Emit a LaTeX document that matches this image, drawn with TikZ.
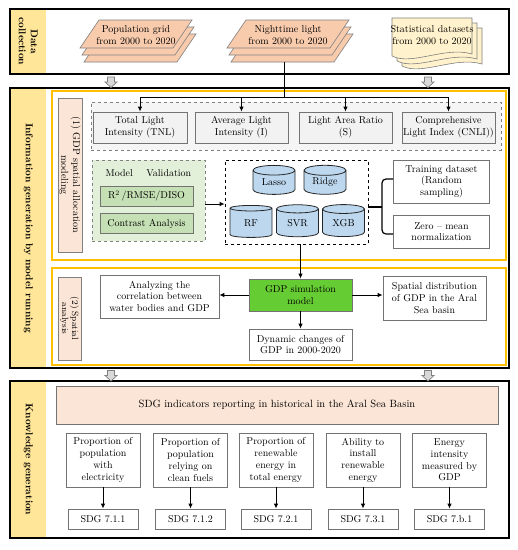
\documentclass[tikz,border=0pt]{standalone}
\usetikzlibrary{arrows.meta, positioning, shapes.geometric}
\definecolor{bandyellow}{HTML}{FFE699}
\definecolor{framegold}{HTML}{FFC000}
\definecolor{tagpink}{HTML}{FBE5D6}
\definecolor{sheetpeach}{HTML}{F8CBAD}
\definecolor{pagecream}{HTML}{FFF2CC}
\definecolor{valgreen}{HTML}{E2F0D9}
\definecolor{metricgreen}{HTML}{C5E0B4}
\definecolor{cylblue}{HTML}{BDD7EE}
\definecolor{gdpgreen}{HTML}{66CC33}
\newcommand{\boxfont}{\fontsize{10}{11.7}\selectfont}

\begin{document}
\begin{tikzpicture}[x=1pt, y=-1pt,
  blk/.style={draw=black, line width=1.2pt, fill=white, minimum width=499pt, inner sep=0pt},
  band/.style={fill=bandyellow, rotate=-90, font=\bfseries, align=center, inner sep=0pt, minimum height=35.4pt},
  frame/.style={draw=framegold, line width=1.2pt, minimum width=454pt, inner sep=0pt},
  tag/.style={draw=gray, fill=tagpink, rotate=-90, align=center, inner sep=0pt, font=\boxfont},
  box/.style={draw=gray!90!black, line width=0.8pt, fill=white, align=center, inner sep=1pt, font=\boxfont},
  greybox/.style={box, fill=gray!10, minimum width=93pt, minimum height=31pt},
  metric/.style={box, fill=metricgreen, minimum width=93pt, minimum height=20pt},
  cyl/.style={cylinder, shape border rotate=90, aspect=0.4, draw=black!85, line width=0.8pt, fill=cylblue,
              minimum width=42pt, minimum height=30pt, inner sep=0pt, font=\boxfont},
  ind/.style={box, minimum width=74pt, minimum height=54pt},
  code/.style={box, minimum width=70pt, minimum height=20pt},
  sheet/.style={draw=gray, line width=0.6pt, fill=sheetpeach},
  page/.style={draw=gray, line width=0.6pt, fill=pagecream},
  bigarrow/.style={draw=gray, line width=0.7pt, fill=gray!30, line join=miter},
  flow/.style={-{Latex[length=5pt,width=4.5pt]}, line width=0.9pt}
]
  \useasboundingbox (0,0) rectangle (518,550);

  % outer blocks
  \node[blk, minimum height=65pt] (dc) at (259.5,41.5) {};
  \node[band, minimum width=63.8pt] (dcband) at (28.3,41.5) {Data\\collection};
  \node[blk, minimum height=280pt] (ig) at (259.5,228) {};
  \node[band, minimum width=278.8pt] (igband) at (28.3,228) {Information generation by model running};
  \node[blk, minimum height=157pt] (kg) at (259.5,459.5) {};
  \node[band, minimum width=155.8pt] (kgband) at (28.3,459.5) {Knowledge generation};

  % grey block arrows between the stages
  \draw[bigarrow] (107.5,77) -- ++(7,0) -- ++(0,5) -- ++(2.5,0) -- ++(-6,5.5) -- ++(-6,-5.5) -- ++(2.5,0) -- cycle;
  \draw[bigarrow] (424.5,77) -- ++(7,0) -- ++(0,5) -- ++(2.5,0) -- ++(-6,5.5) -- ++(-6,-5.5) -- ++(2.5,0) -- cycle;
  \draw[bigarrow] (107.5,370.5) -- ++(7,0) -- ++(0,5) -- ++(2.5,0) -- ++(-6,5.5) -- ++(-6,-5.5) -- ++(2.5,0) -- cycle;
  \draw[bigarrow] (424.5,370.5) -- ++(7,0) -- ++(0,5) -- ++(2.5,0) -- ++(-6,5.5) -- ++(-6,-5.5) -- ++(2.5,0) -- cycle;

  % data collection
  \draw[sheet] (84,62) -- ++(19,-28) -- ++(93,0) -- ++(-19,28) -- cycle;
  \draw[sheet] (82,55) -- ++(19,-28) -- ++(93,0) -- ++(-19,28) -- cycle;
  \draw[sheet] (80,48) -- ++(19,-28) -- ++(93,0) -- ++(-19,28) -- cycle;
  \node[font=\boxfont, align=center] (pop) at (136,35) {Population grid\\from 2000 to 2020};

  \draw[sheet] (231,62) -- ++(19,-28) -- ++(103,0) -- ++(-19,28) -- cycle;
  \draw[sheet] (229,55) -- ++(19,-28) -- ++(103,0) -- ++(-19,28) -- cycle;
  \draw[sheet] (227,48) -- ++(19,-28) -- ++(103,0) -- ++(-19,28) -- cycle;
  \node[font=\boxfont, align=center] (ntl) at (288,35) {Nighttime light\\from 2000 to 2020};

  \draw[page] (402,28) -- (482,28) -- (482,64) .. controls (455,56) and (422,76) .. (402,66) -- cycle;
  \draw[page] (397,23) -- (477,23) -- (477,59) .. controls (450,51) and (417,71) .. (397,61) -- cycle;
  \draw[page] (392,18) -- (472,18) -- (472,54) .. controls (445,46) and (412,66) .. (392,56) -- cycle;
  \node[font=\boxfont, align=center, inner sep=0pt] (stat) at (432,35) {Statistical datasets\\from 2000 to 2020};

  % (1) GDP spatial allocation modeling
  \node[frame, minimum height=169pt] (gdpframe) at (279,175.5) {};
  \node[tag, minimum width=154pt, minimum height=24pt] (tag1) at (70,175) {(1) GDP spatial allocation\\modeling};

  \node[draw=gray, dashed, line width=0.6pt, fill=gray!8, minimum width=410pt, minimum height=48pt] (lic) at (296,126) {};
  \node[greybox, minimum width=94pt] (tnl) at (140,127.5) {Total Light\\Intensity (TNL)};
  \node[greybox] (avg) at (241.5,127.5) {Average Light\\Intensity (I)};
  \node[greybox] (lar) at (345.5,127.5) {Light Area Ratio\\(S)};
  \node[greybox] (cnli) at (448.5,127.5) {Comprehensive\\Light Index (CNLI))};

  \coordinate (ntlbase) at (284,62);
  \coordinate (bus) at (284,97);
  \draw[line width=0.9pt] (ntlbase) -- (bus);
  \draw[line width=0.9pt] (bus -| tnl) -- (bus -| cnli);
  \draw[flow] (bus -| tnl) -- (tnl.north);
  \draw[flow] (bus -| avg) -- (avg.north);
  \draw[flow] (bus -| lar) -- (lar.north);
  \draw[flow] (bus -| cnli) -- (cnli.north);

  \node[draw=gray, dashed, line width=0.6pt, fill=valgreen, minimum width=113pt, minimum height=81pt] (mv) at (148.5,200.5) {};
  \node[font=\boxfont] (mvtitle) at (148.5,173) {Model \quad Validation};
  \node[metric] (r2) at (146.5,196) {R\textsuperscript{2}\,/RMSE/DISO};
  \node[metric] (ca) at (146.5,223.5) {Contrast Analysis};

  \node[draw, dashed, line width=0.8pt, minimum width=143pt, minimum height=84pt] (mdl) at (296.5,202) {};
  \node[cyl, minimum height=29pt] (lasso) at (274,182.5) {Lasso};
  \node[cyl, minimum height=29pt] (ridge) at (325,182.5) {Ridge};
  \node[cyl, minimum height=32pt] (rf) at (251,223) {RF};
  \node[cyl, minimum height=32pt] (svr) at (297.5,223) {SVR};
  \node[cyl, minimum height=32pt] (xgb) at (343.5,223) {XGB};

  \draw[flow] (mv.east |- 0,204) -- (mdl.west |- 0,204);

  \node[box, minimum width=96pt, minimum height=43pt] (trn) at (441.5,181.5) {Training dataset\\(Random\\sampling)};
  \node[box, minimum width=96pt, minimum height=33pt] (zmn) at (441.5,231.5) {Zero -- mean\\normalization};
  \coordinate (brmid) at (382,207);
  \draw[line width=1.2pt, rounded corners=4pt] (trn.west |- 0,179) -| (brmid) |- (zmn.west |- 0,234);
  \draw[line width=1.2pt] (mdl.east |- brmid) -- (brmid);

  % (2) Spatial analysis
  \node[frame, minimum height=97pt] (anaframe) at (279,316.5) {};
  \node[tag, minimum width=83pt, minimum height=23pt, font=\fontsize{9}{10}\selectfont] (tag2) at (69.5,318.5) {(2) Spatial\\analysis};

  \node[box, fill=gdpgreen, minimum width=103pt, minimum height=32pt] (gdp) at (300.5,295) {GDP simulation\\model};
  \node[box, minimum width=119pt, minimum height=43pt] (ana) at (159.5,296.5) {Analyzing the\\correlation between\\water bodies and GDP};
  \node[box, minimum width=103pt, minimum height=44pt] (spd) at (434.5,298) {Spatial distribution\\of GDP in the Aral\\Sea basin};
  \node[box, minimum width=103pt, minimum height=31pt] (dyn) at (300.5,344.5) {Dynamic changes of\\GDP in 2000-2020};

  \draw[flow] (gdp.north |- mdl.south) -- (gdp.north);
  \draw[flow] (gdp.west) -- (gdp.west -| ana.east);
  \draw[flow] (gdp.east) -- (gdp.east -| spd.west);
  \draw[flow] (gdp.south) -- (dyn.north);

  % knowledge generation
  \node[box, fill=tagpink, minimum width=442pt, minimum height=38pt, font=\fontsize{10.5}{12}\selectfont] (sdg) at (277,405) {SDG indicators reporting in historical in the Aral Sea Basin};

  \node[ind] (ind1) at (103,460) {Proportion of\\population\\with\\electricity};
  \node[ind] (ind2) at (190.5,460) {Proportion of\\population\\relying on\\clean fuels};
  \node[ind] (ind3) at (276,460) {Proportion of\\renewable\\energy in\\total energy};
  \node[ind] (ind4) at (363,460) {Ability to\\install\\renewable\\energy};
  \node[ind] (ind5) at (449.5,460) {Energy\\intensity\\measured by\\GDP};

  \node[code] (sdg1) at (103,519) {SDG 7.1.1};
  \node[code] (sdg2) at (190.5,519) {SDG 7.1.2};
  \node[code] (sdg3) at (276,519) {SDG 7.2.1};
  \node[code] (sdg4) at (363,519) {SDG 7.3.1};
  \node[code] (sdg5) at (449.5,519) {SDG 7.b.1};

  \draw[flow] (ind1) -- (sdg1);
  \draw[flow] (ind2) -- (sdg2);
  \draw[flow] (ind3) -- (sdg3);
  \draw[flow] (ind4) -- (sdg4);
  \draw[flow] (ind5) -- (sdg5);
\end{tikzpicture}
\end{document}
